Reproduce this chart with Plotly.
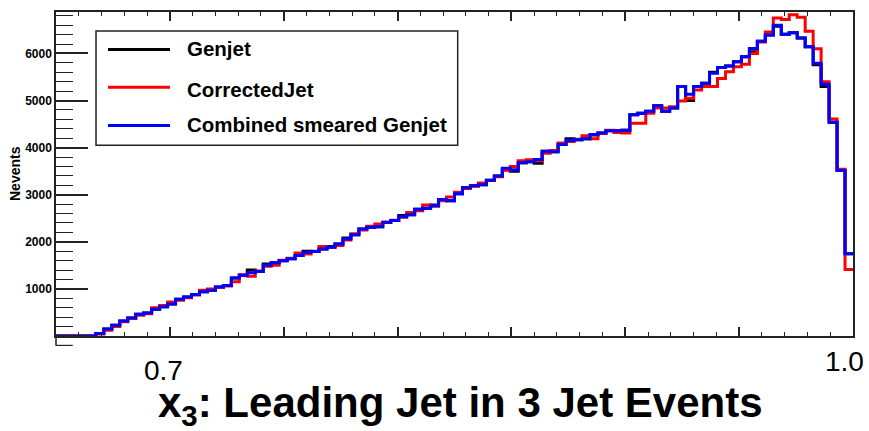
import numpy as np
import plotly.graph_objects as go

# ---- data ----
x_min, x_max, n_bins = 0.65, 1.0, 100

genjet = [0, 0, 0, 0, 0, 55, 150, 230, 320, 380,
          460, 490, 570, 620, 680, 780, 830, 880, 940, 970,
          1040, 1075, 1230, 1290, 1400, 1370, 1530, 1555, 1600, 1640,
          1710, 1800, 1795, 1850, 1900, 1955, 2080, 2150, 2270, 2310,
          2320, 2410, 2450, 2560, 2575, 2690, 2715, 2780, 2900, 2870,
          3020, 3150, 3190, 3210, 3305, 3400, 3530, 3500, 3680, 3700,
          3670, 3925, 3910, 4065, 4190, 4165, 4190, 4270, 4310, 4360,
          4360, 4370, 4700, 4730, 4770, 4890, 4770, 4840, 5300, 5000,
          5300, 5365, 5600, 5700, 5735, 5825, 5930, 6035, 6260, 6390,
          6580, 6410, 6440, 6330, 6140, 5760, 5300, 4540, 3515, 1745]

corrected = [0, 0, 0, 0, 0, 40, 120, 200, 300, 370,
             440, 470, 600, 650, 720, 760, 810, 870, 970, 1000,
             1030, 1060, 1150, 1300, 1270, 1380, 1480, 1500, 1610, 1650,
             1760, 1740, 1800, 1900, 1880, 1920, 2040, 2170, 2250, 2330,
             2380, 2420, 2460, 2520, 2620, 2660, 2780, 2760, 2870, 2950,
             3050, 3130, 3180, 3250, 3300, 3380, 3520, 3600, 3720, 3740,
             3720, 3880, 3940, 4100, 4130, 4180, 4250, 4190, 4300, 4370,
             4320, 4310, 4520, 4520, 4730, 4840, 4840, 4870, 4990, 5050,
             5225, 5300, 5300, 5470, 5610, 5720, 5770, 6000, 6245, 6455,
             6750, 6720, 6820, 6770, 6470, 6100, 5400, 4610, 3540, 1410]

combined = [0, 0, 0, 0, 0, 55, 150, 230, 320, 380,
            460, 490, 570, 620, 680, 780, 830, 880, 940, 970,
            1040, 1075, 1230, 1290, 1345, 1370, 1500, 1555, 1600, 1640,
            1710, 1780, 1795, 1850, 1885, 1955, 2060, 2150, 2270, 2310,
            2320, 2410, 2450, 2530, 2575, 2690, 2715, 2760, 2900, 2870,
            3020, 3150, 3190, 3210, 3305, 3400, 3560, 3530, 3680, 3700,
            3750, 3925, 3910, 4065, 4150, 4165, 4190, 4280, 4310, 4360,
            4360, 4370, 4700, 4730, 4770, 4890, 4770, 4840, 5300, 5135,
            5300, 5365, 5580, 5700, 5735, 5825, 5930, 6105, 6260, 6390,
            6600, 6410, 6440, 6330, 6140, 5790, 5345, 4540, 3515, 1745]

series_names = ["Genjet", "CorrectedJet", "Combined smeared Genjet"]
series_colors = ["#000000", "#ff0000", "#0000ff"]
y_tick_values = [1000, 2000, 3000, 4000, 5000, 6000]
y_tick_labels = ["1000", "2000", "3000", "4000", "5000", "6000"]
x_labels = ["0.7", "1.0"]

edges = np.linspace(x_min, x_max, n_bins + 1)

fig = go.Figure()
for vals, name, col in zip([genjet, corrected, combined], series_names, series_colors):
    v = list(vals) + [vals[-1]]
    fig.add_trace(go.Scatter(x=edges, y=v, mode="lines", name=name,
                             line=dict(color=col, width=3, shape="hv"),
                             showlegend=False))

FONT = "Liberation Sans, Arial, Helvetica, sans-serif"

fig.update_layout(
    width=869, height=431,
    margin=dict(l=56, r=16, t=10, b=95),
    paper_bgcolor="white", plot_bgcolor="white",
    font=dict(family=FONT, color="black"),
)
fig.update_xaxes(
    range=[x_min, x_max], showgrid=False, zeroline=False,
    showline=True, linecolor="#222", linewidth=1.5, mirror="ticks",
    ticks="inside", ticklen=9, tickwidth=1.5, tickcolor="#222",
    tick0=0.7, dtick=0.05, showticklabels=False,
    minor=dict(ticks="inside", ticklen=4, tickwidth=1.2, tickcolor="#222", dtick=0.01, showgrid=False),
)
fig.update_yaxes(
    range=[0, 6880], showgrid=False, zeroline=False,
    showline=True, linecolor="#222", linewidth=1.5, mirror=True,
    ticks="inside", ticklen=32, tickwidth=1.5, tickcolor="#222",
    tickvals=y_tick_values, ticktext=y_tick_labels,
    tickfont=dict(size=12, family=FONT, weight="bold"),
    minor=dict(ticks="inside", ticklen=17, tickwidth=1.2, tickcolor="#222", dtick=200, showgrid=False),
)

# major tick at zero and stub of y axis below frame
fig.add_shape(type="line", xref="paper", yref="paper", x0=0, x1=0.04, y0=0, y1=0,
              line=dict(color="#222", width=1.5))
fig.add_shape(type="line", xref="paper", yref="paper", x0=0, x1=0, y0=0, y1=-0.03,
              line=dict(color="#222", width=1.5))
fig.add_shape(type="line", xref="paper", yref="paper", x0=0, x1=0.021, y0=-0.029, y1=-0.029,
              line=dict(color="#222", width=1.2))

# legend box (manual)
fig.add_shape(type="rect", xref="paper", yref="paper", x0=0.0502, x1=0.504, y0=0.589, y1=0.9417,
              line=dict(color="#222", width=1.5), fillcolor="white", layer="above")
leg_line_y = [0.884, 0.7678, 0.650]
leg_text_y = [0.8874, 0.7598, 0.6525]
for name, col, ly, ty in zip(series_names, series_colors, leg_line_y, leg_text_y):
    fig.add_shape(type="line", xref="paper", yref="paper", x0=0.0652, x1=0.143, y0=ly, y1=ly,
                  line=dict(color=col, width=3), layer="above")
    fig.add_annotation(text=name, xref="paper", yref="paper", x=0.1619, y=ty,
                       xanchor="left", yanchor="middle", showarrow=False,
                       font=dict(size=20.5, family=FONT, weight="bold", color="black"))

# axis labels
fig.add_annotation(text="<b>Nevents</b>", xref="paper", yref="paper", x=0, y=0.5,
                   xshift=-41, textangle=-90, showarrow=False, xanchor="center", yanchor="middle",
                   font=dict(size=14, family=FONT, color="black"))
fig.add_annotation(text=x_labels[0], xref="x", yref="paper", x=0.6973, y=-0.105,
                   xanchor="center", yanchor="middle", showarrow=False,
                   font=dict(size=28, family=FONT, color="black"))
fig.add_annotation(text=x_labels[1], xref="x", yref="paper", x=0.9963, y=-0.0798,
                   xanchor="center", yanchor="middle", showarrow=False,
                   font=dict(size=28, family=FONT, color="black"))
fig.add_annotation(text="<b>x<sub>3</sub>: Leading Jet in 3 Jet Events</b>", xref="paper", yref="paper",
                   x=0.508, y=-0.216, xanchor="center", yanchor="middle", showarrow=False,
                   font=dict(size=42, family=FONT, color="black"))

fig.write_html("out.html")
